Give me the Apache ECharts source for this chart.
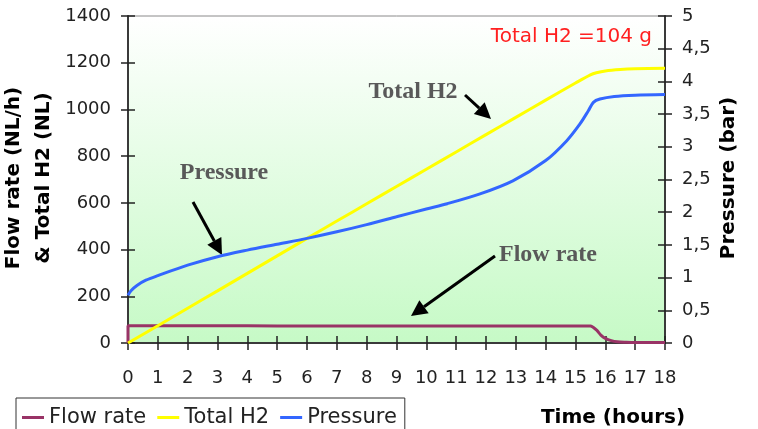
<!DOCTYPE html>
<html>
<head>
<meta charset="UTF-8">
<title>H2 flow</title>
<script src="https://cdn.jsdelivr.net/npm/echarts@6/dist/echarts.min.js"></script>
<style>
  html, body { margin: 0; padding: 0; background: #fff; }
  #chart { width: 758px; height: 429px; }
</style>
</head>
<body>
<div id="chart"></div>
<script>
// time (hours) for each series
var flowTime = [0, 0, 1, 3, 5, 7, 9, 11, 13, 15, 15.5, 15.7, 15.85, 16, 16.2, 16.4, 16.7, 17, 18];
var flowRate = [0, 74, 74, 74, 73, 73, 73, 73, 73, 73, 73, 56, 34, 20, 10, 5, 3, 2, 2];

var totalTime = [0, 1, 2, 3, 4, 5, 6, 7, 8, 9, 10, 11, 12, 13, 14, 15, 15.5, 15.7, 16, 16.5, 17, 18];
var totalH2 = [0, 74, 149, 223, 298, 373, 448, 522, 596, 670, 744, 818, 892, 966, 1040, 1113, 1148, 1157, 1165, 1171, 1174, 1176];

var pressTime = [0, 0.1, 0.3, 0.6, 1, 2, 3, 4, 5, 6, 7, 8, 9, 10, 10.7, 11.8, 12.9, 14, 14.7, 15.15, 15.43, 15.6, 15.82, 16.3, 17, 18];
var pressure = [0.73, 0.8, 0.88, 0.96, 1.03, 1.19, 1.32, 1.42, 1.51, 1.6, 1.7, 1.81, 1.93, 2.05, 2.13, 2.28, 2.48, 2.79, 3.09, 3.35, 3.55, 3.68, 3.73, 3.77, 3.79, 3.8];

var leftTicks = { min: 0, max: 1400, interval: 200 };
var rightTicks = { min: 0, max: 5, interval: 0.5 };
var timeTicks = { min: 0, max: 18, interval: 1 };

function pairs(xs, ys) {
  var out = [];
  for (var i = 0; i < xs.length; i++) out.push([xs[i], ys[i]]);
  return out;
}

// black arrow: shaft + filled head
function arrow(x1, y1, x2, y2) {
  var a = Math.atan2(y2 - y1, x2 - x1);
  var hl = 16, hw = 8;
  var bx = x2 - hl * Math.cos(a), by = y2 - hl * Math.sin(a);
  return {
    type: 'group',
    children: [
      { type: 'line', shape: { x1: x1, y1: y1, x2: bx, y2: by }, style: { stroke: '#000', lineWidth: 3 } },
      { type: 'polygon', shape: { points: [
          [x2, y2],
          [bx + hw * Math.sin(a), by - hw * Math.cos(a)],
          [bx - hw * Math.sin(a), by + hw * Math.cos(a)]
        ] }, style: { fill: '#000' } }
    ]
  };
}

var font = 'DejaVu Sans';
var noteFont = 'bold 24px "Liberation Serif"';
var tickStyle = { color: '#222', width: 1.5 };
var gridBox = { left: 128, right: 93, top: 16, bottom: 86 };

// axes drawn twice (one grid each) so the ticks cross the axis line
function timeAxis(gi, inside) {
  return {
    type: 'value', gridIndex: gi, min: timeTicks.min, max: timeTicks.max, interval: timeTicks.interval,
    position: 'bottom',
    axisLine: { show: !inside, lineStyle: { color: '#3a3a3a', width: 2 } },
    axisTick: { show: true, inside: inside, length: 7, lineStyle: tickStyle },
    axisLabel: { show: !inside, margin: 26, fontFamily: font, fontSize: 18, color: '#222' },
    splitLine: { show: false }
  };
}
function valAxis(gi, pos, t, inside, fmt) {
  return {
    type: 'value', gridIndex: gi, position: pos, min: t.min, max: t.max, interval: t.interval,
    axisLine: { show: !inside, lineStyle: { color: '#3a3a3a', width: 2 } },
    axisTick: { show: true, inside: inside, length: 7, lineStyle: tickStyle },
    axisLabel: { show: !inside, margin: 17, fontFamily: font, fontSize: 18, color: '#222', formatter: fmt },
    splitLine: { show: false }
  };
}

var chart = echarts.init(document.getElementById('chart'));
var option = {
  animation: false,
  grid: [Object.assign({
    show: true,
    borderColor: '#8a8a8a', borderWidth: 1,
    backgroundColor: new echarts.graphic.LinearGradient(0, 0, 0, 1, [
      { offset: 0, color: '#ffffff' },
      { offset: 1, color: '#c6fac6' }
    ])
  }, gridBox), Object.assign({ show: false }, gridBox)],
  legend: {
    left: 16, top: 398,
    padding: [9, 8, 12, 6],
    borderColor: '#333', borderWidth: 1,
    icon: 'rect', itemWidth: 22, itemHeight: 3, itemGap: 11,
    textStyle: { fontFamily: font, fontSize: 21, color: '#222' },
    data: ['Flow rate', 'Total H2', 'Pressure']
  },
  xAxis: [timeAxis(0, false), timeAxis(1, true)],
  yAxis: [
    valAxis(0, 'left', leftTicks, false, function (v) { return String(v); }),
    valAxis(0, 'right', rightTicks, false, function (v) { return String(v).replace('.', ','); }),
    valAxis(1, 'left', leftTicks, true),
    valAxis(1, 'right', rightTicks, true)
  ],
  series: [{
    name: 'Flow rate', type: 'line', xAxisIndex: 0, yAxisIndex: 0,
    data: pairs(flowTime, flowRate), smooth: 0.3, showSymbol: false, symbol: 'none',
    itemStyle: { color: '#993366' }, lineStyle: { color: '#993366', width: 3 }
  }, {
    name: 'Total H2', type: 'line', xAxisIndex: 0, yAxisIndex: 0,
    data: pairs(totalTime, totalH2), smooth: 0.3, showSymbol: false, symbol: 'none',
    itemStyle: { color: '#ffff00' }, lineStyle: { color: '#ffff00', width: 3 }
  }, {
    name: 'Pressure', type: 'line', xAxisIndex: 0, yAxisIndex: 1,
    data: pairs(pressTime, pressure), smooth: 0.3, showSymbol: false, symbol: 'none',
    itemStyle: { color: '#3366ff' }, lineStyle: { color: '#3366ff', width: 3 }
  }],
  graphic: [
    { type: 'text', x: 29, y: 178, rotation: Math.PI / 2,
      style: { text: 'Flow rate (NL/h)\n& Total H2 (NL)', align: 'center', verticalAlign: 'middle',
        font: 'bold 20px "DejaVu Sans"', lineHeight: 30, fill: '#000' } },
    { type: 'text', x: 729, y: 178, rotation: Math.PI / 2,
      style: { text: 'Pressure (bar)', align: 'center', verticalAlign: 'middle',
        font: 'bold 20px "DejaVu Sans"', fill: '#000' } },
    { type: 'text', x: 613, y: 418,
      style: { text: 'Time (hours)', align: 'center', verticalAlign: 'middle',
        font: 'bold 20px "DejaVu Sans"', fill: '#000' } },
    { type: 'text', x: 652, y: 37,
      style: { text: 'Total H2 =104 g', align: 'right', verticalAlign: 'middle',
        font: '20px "DejaVu Sans"', fill: '#ff2020' } },
    { type: 'text', x: 224, y: 173,
      style: { text: 'Pressure', align: 'center', verticalAlign: 'middle', font: noteFont, fill: '#595959' } },
    { type: 'text', x: 413, y: 92,
      style: { text: 'Total H2', align: 'center', verticalAlign: 'middle', font: noteFont, fill: '#595959' } },
    { type: 'text', x: 548, y: 255,
      style: { text: 'Flow rate', align: 'center', verticalAlign: 'middle', font: noteFont, fill: '#595959' } },
    arrow(193, 202, 222, 255),
    arrow(465, 95, 491, 119),
    arrow(495, 256, 411, 316)
  ]
};
chart.setOption(option);
</script>
</body>
</html>
